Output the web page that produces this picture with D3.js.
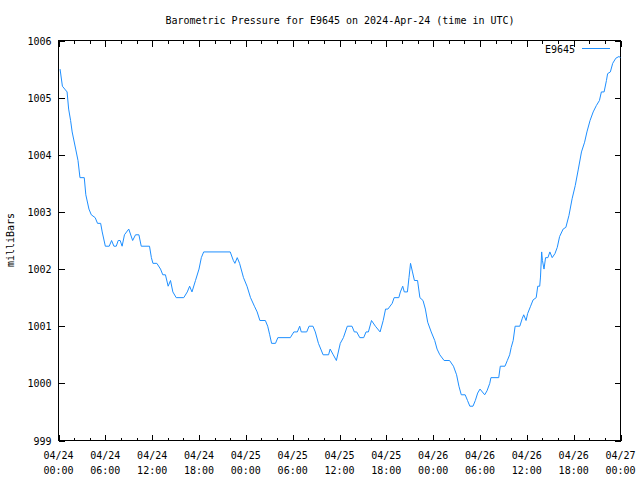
<!DOCTYPE html>
<html><head><meta charset="utf-8">
<script src="https://cdn.jsdelivr.net/npm/d3@7"></script>
<style>body{margin:0;background:#fff}svg text{font-family:"DejaVu Sans Mono","Liberation Mono",monospace;font-size:10px;fill:#000}</style>
</head><body>
<svg id="c" width="640" height="480"></svg>
<script>
const title = "Barometric Pressure for E9645 on 2024-Apr-24 (time in UTC)";
const seriesName = "E9645";
const yLabel = "milliBars";
const yTicks = [999,1000,1001,1002,1003,1004,1005,1006];
const xTickHours = [0,6,12,18,24,30,36,42,48,54,60,66,72];
// hours after 2024-04-24 00:00 UTC
const hours = [0.2,0.5,0.8,1.1,1.3,1.55,1.75,2.2,2.5,2.75,3.3,3.5,3.9,4.2,4.7,5.0,5.4,5.6,6.0,6.5,6.8,7.1,7.4,7.65,7.9,8.15,8.45,9.0,9.5,9.87,10.3,10.6,11.66,11.9,12.1,12.6,13.07,13.36,13.7,14.05,14.35,14.65,15.08,16.05,16.5,16.8,17.1,17.55,18.0,18.3,18.6,22.0,22.4,22.6,22.9,23.2,23.7,24.15,24.6,25.1,25.45,25.8,26.5,26.8,27.06,27.3,27.8,28.1,29.7,30.15,30.6,30.9,31.1,31.8,32.1,32.6,32.9,33.3,33.6,33.9,34.6,34.8,35.2,35.6,36.1,36.5,37.0,37.6,37.9,38.2,38.6,39.1,39.4,39.7,40.1,40.6,41.2,41.6,41.9,42.2,42.75,43.0,43.6,43.8,44.1,44.3,44.7,44.9,45.1,45.35,45.6,46.0,46.3,46.7,47.0,47.3,47.75,48.2,48.5,48.85,49.4,50.1,50.6,51.0,51.3,51.6,52.1,52.4,52.7,53.1,53.4,53.7,54.0,54.6,54.9,55.25,55.4,56.4,56.6,57.2,57.5,57.8,58.0,58.25,58.5,59.1,59.4,59.6,59.9,60.1,60.45,60.8,61.2,61.4,61.65,61.75,61.9,62.0,62.2,62.4,62.7,62.95,63.25,63.6,63.9,64.2,64.65,65.0,65.4,65.8,66.2,66.6,67.0,67.4,67.7,68.1,68.5,68.9,69.3,69.55,69.9,70.2,70.35,70.7,71.0,71.4,71.8,72.0];
const pressure = [1005.5,1005.2,1005.15,1005.1,1004.8,1004.6,1004.4,1004.1,1003.9,1003.6,1003.6,1003.3,1003.05,1002.95,1002.9,1002.8,1002.8,1002.65,1002.4,1002.4,1002.5,1002.4,1002.4,1002.5,1002.5,1002.4,1002.6,1002.7,1002.5,1002.6,1002.6,1002.4,1002.4,1002.2,1002.1,1002.1,1002.0,1001.9,1001.9,1001.7,1001.8,1001.6,1001.5,1001.5,1001.6,1001.7,1001.6,1001.8,1002.0,1002.2,1002.3,1002.3,1002.15,1002.1,1002.2,1002.1,1001.85,1001.7,1001.5,1001.35,1001.25,1001.1,1001.1,1001.0,1000.85,1000.7,1000.7,1000.8,1000.8,1000.9,1000.9,1001.0,1000.9,1000.9,1001.0,1001.0,1000.9,1000.7,1000.6,1000.5,1000.5,1000.6,1000.5,1000.4,1000.7,1000.8,1001.0,1001.0,1000.9,1000.9,1000.8,1000.8,1000.9,1000.9,1001.1,1001.0,1000.9,1001.1,1001.3,1001.3,1001.4,1001.5,1001.5,1001.6,1001.7,1001.6,1001.6,1001.85,1002.1,1001.95,1001.8,1001.8,1001.5,1001.45,1001.3,1001.07,1000.9,1000.75,1000.6,1000.5,1000.4,1000.4,1000.3,1000.15,999.95,999.8,999.8,999.7,999.6,999.6,999.7,999.83,999.9,999.8,999.87,1000.0,1000.1,1000.1,1000.3,1000.3,1000.4,1000.5,1000.63,1000.75,1001.0,1001.0,1001.13,1001.2,1001.1,1001.22,1001.34,1001.46,1001.5,1001.7,1001.7,1001.86,1002.3,1002.15,1002.0,1002.2,1002.2,1002.3,1002.2,1002.27,1002.38,1002.57,1002.7,1002.73,1002.94,1003.23,1003.46,1003.75,1004.05,1004.22,1004.4,1004.6,1004.75,1004.86,1004.95,1005.1,1005.1,1005.3,1005.42,1005.45,1005.6,1005.69,1005.72,1005.7];

const t0 = Date.UTC(2024,3,24,0,0);
const toDate = h => new Date(t0 + h*3600000);
const data = hours.map((h,i)=>({t:toDate(h), v:pressure[i]}));

const L=58.5, R=620.5, T=40.5, B=440.5;
const svg = d3.select("#c");
const x = d3.scaleUtc().domain([toDate(0), toDate(72)]).range([L,R]);
const y = d3.scaleLinear().domain([999,1006]).range([B,T]);

// minor ticks every 2h
const minor = d3.range(0,73,2).filter(h=>h%6!==0).map(toDate);
const g = svg.append("g").attr("stroke","#000").attr("stroke-width",1).attr("shape-rendering","crispEdges");
minor.forEach(d=>{
  const xx = Math.round(x(d))+0.5;
  g.append("line").attr("x1",xx).attr("x2",xx).attr("y1",B).attr("y2",B-3);
  g.append("line").attr("x1",xx).attr("x2",xx).attr("y1",T).attr("y2",T+3);
});

// bottom axis
const fmt = d3.utcFormat("%m/%d");
const fmt2 = d3.utcFormat("%H:%M");
const xAxisB = d3.axisBottom(x).tickValues(xTickHours.map(toDate)).tickSizeInner(-6).tickSizeOuter(0).tickFormat("");
const gb = svg.append("g").attr("transform",`translate(0,${B})`).call(xAxisB);
gb.select(".domain").remove();
gb.selectAll("line").attr("stroke","#000").attr("shape-rendering","crispEdges");
const xAxisT = d3.axisTop(x).tickValues(xTickHours.map(toDate)).tickSizeInner(-6).tickSizeOuter(0).tickFormat("");
const gt = svg.append("g").attr("transform",`translate(0,${T})`).call(xAxisT);
gt.select(".domain").remove();
gt.selectAll("line").attr("stroke","#000").attr("shape-rendering","crispEdges");
xTickHours.forEach(h=>{
  const d=toDate(h);
  svg.append("text").attr("x",x(d)).attr("y",459).attr("text-anchor","middle").text(fmt(d));
  svg.append("text").attr("x",x(d)).attr("y",474).attr("text-anchor","middle").text(fmt2(d));
});

// y axes
const yAxisL = d3.axisLeft(y).tickValues(yTicks).tickSizeInner(-6).tickSizeOuter(0).tickPadding(7).tickFormat(d3.format("d"));
const gl = svg.append("g").attr("transform",`translate(${L},0)`).call(yAxisL);
gl.select(".domain").remove();
gl.selectAll("line").attr("stroke","#000").attr("shape-rendering","crispEdges");
gl.selectAll("text").attr("dy","0.35em");
gl.attr("font-size",null).attr("font-family",null);
const yAxisR = d3.axisRight(y).tickValues(yTicks).tickSizeInner(-6).tickSizeOuter(0).tickFormat("");
const gr = svg.append("g").attr("transform",`translate(${R},0)`).call(yAxisR);
gr.select(".domain").remove();
gr.selectAll("line").attr("stroke","#000").attr("shape-rendering","crispEdges");

// frame
svg.append("rect").attr("x",L).attr("y",T).attr("width",R-L).attr("height",B-T)
  .attr("fill","none").attr("stroke","#000").attr("shape-rendering","crispEdges");

// line
const line = d3.line().x(d=>x(d.t)).y(d=>y(d.v));
svg.append("path").datum(data).attr("d",line).attr("fill","none").attr("stroke","#1e8fff").attr("stroke-width",1);

// title
svg.append("text").attr("x",340).attr("y",24).attr("text-anchor","middle").text(title);
// y label
svg.append("text").attr("transform","translate(14,240) rotate(-90)").attr("text-anchor","middle").text(yLabel);
// legend
svg.append("text").attr("x",575).attr("y",53).attr("text-anchor","end").text(seriesName);
svg.append("line").attr("x1",582).attr("x2",610).attr("y1",48.5).attr("y2",48.5).attr("stroke","#1e8fff").attr("stroke-width",1);
</script>
</body></html>
